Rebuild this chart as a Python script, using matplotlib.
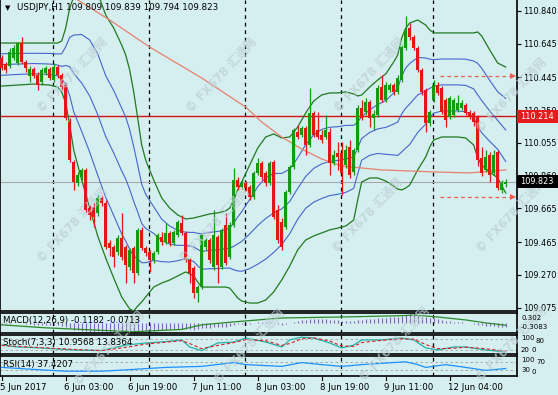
import matplotlib
matplotlib.use('Agg')
import matplotlib.pyplot as plt
from matplotlib.patches import Rectangle
import numpy as np

# ---------------- data ----------------
symbol = 'USDJPY,H1'
open_ = [110.560,110.524,110.512,110.560,110.530,110.649,110.536,110.453,110.494,110.459,
         110.417,110.471,110.494,110.429,110.506,110.459,110.399,110.179,109.941,109.816,
         109.852,109.894,109.667,109.673,109.638,109.727,109.697,109.459,109.435,109.406,
         109.489,109.435,109.316,109.429,109.281,109.537,109.429,109.406,109.358,109.406,
         109.495,109.465,109.519,109.459,109.507,109.578,109.519,109.358,109.310,109.162,
         109.197,109.435,109.477,109.316,109.495,109.316,109.566,109.376,109.566,109.834,
         109.792,109.816,109.792,109.733,109.876,109.935,109.876,109.816,109.941,109.656,
         109.584,109.554,109.763,109.911,110.120,110.102,110.143,110.042,110.233,110.132,
         110.102,110.090,110.120,109.935,109.995,109.995,109.923,110.030,109.882,110.013,
         110.262,110.239,110.298,110.203,110.221,110.387,110.310,110.370,110.399,110.358,
         110.429,110.619,110.738,110.685,110.619,110.489,110.370,110.173,110.310,110.399,
         110.381,110.310,110.209,110.221,110.251,110.262,110.280,110.239,110.233,110.209,
         109.965,109.894,109.983,109.876,110.001,109.775,109.809]
high_ = [110.578,110.536,110.619,110.637,110.655,110.685,110.548,110.512,110.506,110.477,
         110.500,110.512,110.506,110.530,110.518,110.471,110.411,110.203,109.953,109.882,
         109.905,109.905,109.685,109.697,109.745,109.739,109.715,109.477,109.447,109.507,
         109.638,109.447,109.429,109.441,109.548,109.554,109.441,109.418,109.412,109.519,
         109.525,109.578,109.531,109.537,109.596,109.626,109.531,109.370,109.322,109.209,
         109.519,109.489,109.489,109.656,109.507,109.548,109.638,109.584,109.905,109.852,
         109.834,109.828,109.804,109.888,109.965,109.947,109.888,109.947,109.953,109.685,
         109.608,109.775,109.923,110.143,110.161,110.155,110.155,110.381,110.245,110.239,
         110.132,110.221,110.143,110.013,110.060,110.060,110.042,110.072,110.024,110.280,
         110.310,110.322,110.310,110.251,110.399,110.459,110.417,110.411,110.411,110.459,
         110.637,110.810,110.768,110.697,110.631,110.500,110.381,110.251,110.429,110.417,
         110.393,110.322,110.334,110.322,110.340,110.310,110.292,110.251,110.245,110.221,
         110.030,110.013,110.001,110.013,110.013,109.834,109.839]
low_ = [110.489,110.471,110.500,110.548,110.518,110.524,110.477,110.417,110.441,110.370,
        110.399,110.459,110.429,110.417,110.441,110.370,110.191,109.941,109.775,109.798,
        109.834,109.644,109.596,109.554,109.620,109.679,109.423,109.382,109.316,109.388,
        109.358,109.221,109.299,109.221,109.269,109.418,109.382,109.287,109.340,109.394,
        109.447,109.453,109.441,109.447,109.495,109.507,109.346,109.221,109.132,109.108,
        109.185,109.418,109.340,109.299,109.221,109.304,109.328,109.364,109.554,109.775,
        109.780,109.769,109.715,109.721,109.864,109.834,109.798,109.804,109.602,109.459,
        109.418,109.542,109.751,109.899,110.078,110.090,109.983,110.030,110.090,110.078,
        110.054,110.078,109.864,109.923,109.894,109.745,109.905,109.846,109.864,110.001,
        110.191,110.221,110.149,110.132,110.209,110.298,110.298,110.358,110.340,110.346,
        110.417,110.608,110.667,110.608,110.477,110.340,110.120,110.155,110.298,110.340,
        110.227,110.149,110.197,110.209,110.239,110.251,110.221,110.197,110.155,109.917,
        109.858,109.882,109.822,109.864,109.775,109.757,109.794]
close_ = [110.500,110.489,110.596,110.619,110.649,110.536,110.500,110.494,110.453,110.399,
          110.489,110.500,110.441,110.506,110.459,110.387,110.203,109.953,109.822,109.864,
          109.894,109.656,109.626,109.614,109.727,109.697,109.435,109.429,109.376,109.489,
          109.376,109.328,109.418,109.281,109.537,109.429,109.400,109.358,109.400,109.507,
          109.465,109.519,109.459,109.525,109.584,109.519,109.358,109.281,109.162,109.197,
          109.507,109.477,109.358,109.507,109.328,109.537,109.340,109.566,109.834,109.792,
          109.816,109.786,109.733,109.876,109.935,109.852,109.816,109.935,109.614,109.477,
          109.435,109.763,109.911,110.132,110.090,110.143,110.042,110.233,110.102,110.090,
          110.072,110.132,109.935,109.983,109.971,109.876,110.013,109.864,110.013,110.262,
          110.203,110.298,110.203,110.227,110.381,110.310,110.399,110.399,110.358,110.441,
          110.625,110.727,110.685,110.619,110.489,110.358,110.173,110.239,110.399,110.352,
          110.239,110.191,110.322,110.310,110.292,110.292,110.233,110.209,110.179,109.953,
          109.876,109.971,109.864,109.983,109.786,109.816,109.823]

# Bollinger bands (bar index, price)
band_idx = [0,4,8,12,14,15,16,17,18,20,22,24,25,26,28,30,31,32,33,34,35,36,38,40,42,44,46,48,49,50,
            52,54,56,57,58,59,60,62,64,66,68,70,72,74,76,78,80,82,84,86,88,89,90,92,94,96,98,99,100,101,
            102,104,106,107,108,110,112,114,116,118,119,120,122,124,126]
bb_outer_up = [110.649,110.649,110.649,110.649,110.649,110.661,110.738,110.857,110.923,110.988,
               111.000,110.947,110.881,110.816,110.738,110.637,110.578,110.489,110.358,110.203,
               110.042,109.953,109.834,109.727,109.667,109.626,109.602,109.608,109.614,109.620,
               109.632,109.638,109.650,109.667,109.715,109.775,109.822,109.923,110.024,110.090,
               110.108,110.084,110.090,110.149,110.233,110.304,110.340,110.352,110.352,110.358,
               110.346,110.334,110.340,110.387,110.429,110.465,110.536,110.578,110.679,110.738,
               110.768,110.786,110.756,110.727,110.709,110.709,110.709,110.709,110.709,110.709,
               110.715,110.691,110.608,110.530,110.506]
bb_outer_lo = [110.393,110.399,110.405,110.399,110.387,110.358,110.292,110.161,110.013,109.834,
               109.667,109.501,109.435,109.370,109.251,109.138,109.102,109.066,109.055,109.084,
               109.108,109.138,109.197,109.221,109.239,109.263,109.287,109.263,109.227,109.197,
               109.197,109.197,109.197,109.191,109.162,109.132,109.114,109.102,109.102,109.120,
               109.168,109.239,109.322,109.418,109.477,109.501,109.519,109.537,109.548,109.560,
               109.596,109.715,109.822,109.846,109.846,109.828,109.798,109.780,109.775,109.786,
               109.804,109.894,109.971,110.030,110.072,110.090,110.090,110.090,110.084,110.042,
               109.965,109.923,109.882,109.846,109.757]
bb_mid = [110.521,110.524,110.527,110.524,110.518,110.510,110.515,110.509,110.468,110.411,
          110.334,110.224,110.158,110.093,109.995,109.888,109.840,109.778,109.707,109.644,
          109.575,109.546,109.516,109.474,109.453,109.445,109.445,109.436,109.421,109.409,
          109.415,109.418,109.424,109.429,109.439,109.454,109.468,109.513,109.563,109.605,
          109.638,109.662,109.706,109.784,109.855,109.903,109.930,109.945,109.950,109.959,
          109.971,110.025,110.081,110.117,110.138,110.147,110.167,110.179,110.227,110.262,
          110.286,110.340,110.364,110.379,110.391,110.400,110.400,110.400,110.397,110.376,
          110.340,110.307,110.245,110.188,110.132]
bb_inner_up = [110.585,110.587,110.588,110.587,110.584,110.585,110.627,110.683,110.696,110.700,
               110.667,110.586,110.520,110.455,110.366,110.262,110.209,110.133,110.032,109.923,
               109.809,109.749,109.675,109.601,109.560,109.535,109.523,109.522,109.517,109.514,
               109.523,109.528,109.537,109.548,109.577,109.614,109.645,109.718,109.794,109.848,
               109.873,109.873,109.898,109.966,110.044,110.103,110.135,110.148,110.151,110.159,
               110.159,110.179,110.211,110.252,110.283,110.306,110.352,110.379,110.453,110.500,
               110.527,110.563,110.560,110.553,110.550,110.554,110.554,110.554,110.553,110.542,
               110.528,110.499,110.427,110.359,110.319]
bb_inner_lo = [110.457,110.462,110.466,110.462,110.453,110.434,110.404,110.335,110.241,110.123,
               110.000,109.863,109.797,109.732,109.623,109.513,109.471,109.422,109.381,109.364,
               109.342,109.342,109.356,109.348,109.346,109.354,109.366,109.349,109.324,109.303,
               109.306,109.307,109.310,109.310,109.300,109.293,109.291,109.307,109.333,109.363,
               109.403,109.450,109.514,109.601,109.666,109.702,109.724,109.741,109.749,109.760,
               109.784,109.870,109.952,109.981,109.992,109.987,109.983,109.980,110.001,110.024,
               110.045,110.117,110.167,110.204,110.231,110.245,110.245,110.245,110.240,110.209,
               110.153,110.115,110.064,110.017,109.944]

ma_idx = [17, 19, 27, 37, 50, 61, 65, 70, 75, 80, 85, 95, 108, 117, 126]
ma_val = [110.935, 110.905, 110.786, 110.625, 110.441, 110.268, 110.179, 110.090, 110.018,
          109.959, 109.917, 109.894, 109.882, 109.876, 109.894]

level_line = 110.214
bid_price = 109.823
arrow_levels = [110.455, 109.735]

price_ticks = [110.840, 110.645, 110.445, 110.250, 110.055, 109.860, 109.665, 109.465, 109.270, 109.075]

# MACD
macd_hist = [-0.02,-0.03,-0.02,-0.01,0.0,-0.01,-0.03,-0.04,-0.05,-0.07,-0.06,-0.06,-0.07,-0.06,-0.07,-0.09,
             -0.12,-0.17,-0.21,-0.23,-0.24,-0.26,-0.27,-0.27,-0.26,-0.27,-0.28,-0.28,-0.28,-0.27,-0.27,-0.28,
             -0.28,-0.28,-0.26,-0.26,-0.25,-0.25,-0.24,-0.23,-0.22,-0.21,-0.20,-0.19,-0.18,-0.18,-0.19,-0.20,
             -0.21,-0.20,-0.17,-0.16,-0.16,-0.14,-0.14,-0.12,-0.12,-0.10,-0.06,-0.04,-0.03,-0.02,-0.02,0.0,
             0.02,0.02,0.02,0.03,0.0,-0.03,-0.05,-0.03,0.0,0.04,0.06,0.08,0.08,0.11,0.11,0.11,
             0.11,0.12,0.10,0.09,0.08,0.07,0.07,0.06,0.06,0.09,0.10,0.12,0.12,0.12,0.14,0.15,
             0.16,0.17,0.17,0.18,0.21,0.25,0.27,0.27,0.25,0.22,0.17,0.15,0.15,0.13,0.10,0.07,
             0.05,0.04,0.03,0.02,0.0,-0.01,-0.02,-0.05,-0.07,-0.08,-0.09,-0.10,-0.11,-0.12,-0.1182]
macd_sig_idx = [0, 11, 20, 33, 45, 50, 58, 70, 85, 100, 103, 109, 116, 121, 126]
macd_sig = [-0.06, -0.15, -0.20, -0.27, -0.20, -0.06, 0.03, 0.15, 0.18, 0.22, 0.24, 0.18, 0.09, 0.0, -0.0713]

# Stochastic
stoch_idx = [0,4,10,18,25,31,36,41,45,47,50,54,58,61,66,70,72,75,78,82,85,88,90,95,100,103,106,109,113,116,121,126]
stoch_main = [47,37,32,21,18,47,58,65,74,37,18,58,63,84,63,37,74,89,84,58,32,47,74,74,84,74,32,21,37,37,21,10.9568]
stoch_sig = [45,40,33,24,18,35,52,62,70,55,28,45,60,75,70,45,55,80,85,68,42,40,60,72,80,78,50,28,30,36,28,13.8364]

# RSI
rsi_idx = [0,8,16,25,33,41,50,58,61,70,75,80,85,90,101,104,106,111,116,121,126]
rsi_val = [43,33,24,24,33,43,48,67,57,48,67,57,48,57,71,57,43,57,43,28,37.4207]

day_sep_bars = [13, 37, 61, 85, 108]
time_label_bars = [0, 16, 32, 48, 64, 80, 96, 112]
time_labels = ['5 Jun 2017', '6 Jun 03:00', '6 Jun 19:00', '7 Jun 11:00',
               '8 Jun 03:00', '8 Jun 19:00', '9 Jun 11:00', '12 Jun 04:00']

# ---------------- drawing ----------------
W, H = 558, 395
BG = '#d5eef0'
BULL = '#129a12'
BEAR = '#e01818'
GREEN = '#207a20'
BLUE = '#4466cc'
FS = 5.9
FS_SUB = 5.0

fig = plt.figure(figsize=(W / 100, H / 100), dpi=100)
fig.patch.set_facecolor(BG)

RIGHT = 517


def axes_px(top, bottom):
    a = fig.add_axes([0, 1 - bottom / H, RIGHT / W, (bottom - top) / H])
    a.set_facecolor(BG)
    a.set_xlim(-0.425, (RIGHT - 1.7) / 4)
    a.set_xticks([])
    a.set_yticks([])
    for s in a.spines.values():
        s.set_color('black')
        s.set_linewidth(1.2)
    return a


ax = axes_px(0, 311)
ax_macd = axes_px(313, 333)
ax_sto = axes_px(335, 354)
ax_rsi = axes_px(356, 376)
ax.spines['top'].set_visible(False)

# candles
o = np.array(open_); h = np.array(high_); l = np.array(low_); c = np.array(close_)
idx = np.arange(len(c))
cols = np.where(c >= o, BULL, BEAR)
ax.vlines(idx, l, h, colors=cols, lw=0.9, zorder=4)
ax.bar(idx, np.abs(c - o) + 0.003, bottom=np.minimum(o, c) - 0.0015, width=0.75,
       color=cols, lw=0, zorder=5)

# indicators on price
ax.plot(band_idx, bb_outer_up, color=GREEN, lw=0.9, zorder=3)
ax.plot(band_idx, bb_outer_lo, color=GREEN, lw=0.9, zorder=3)
ax.plot(band_idx, bb_inner_up, color=BLUE, lw=0.8, zorder=3)
ax.plot(band_idx, bb_mid, color=BLUE, lw=0.8, zorder=3)
ax.plot(band_idx, bb_inner_lo, color=BLUE, lw=0.8, zorder=3)
ax.plot(ma_idx, ma_val, color='#e8806c', lw=0.9, zorder=3)

ax.axhline(level_line, color='#d41414', lw=1.0, zorder=2)
ax.axhline(bid_price, color='#a9a9a9', lw=0.8, zorder=2)

for lv in arrow_levels:
    ax.plot([109.6, 127.4], [lv, lv], color='#e8604c', lw=0.9, ls=(0, (3, 2.5)), zorder=6)
    ax.plot([127.9], [lv], marker='>', color='#e8604c', ms=4, mew=0, zorder=6, clip_on=False)

ax.set_ylim(110.905 - 311 * 0.00595, 110.905)
ax.yaxis.tick_right()
ax.set_yticks(price_ticks)
ax.set_yticklabels([f'{t:.3f}' for t in price_ticks], fontsize=FS)
ax.tick_params(axis='y', length=3, width=0.8, pad=1.5, colors='black', right=True)

# price boxes on axis
def price_box(y_px_center, text, fc):
    fig.add_artist(Rectangle((RIGHT / W, 1 - (y_px_center + 6.5) / H), 41 / W, 13 / H,
                             transform=fig.transFigure, fc=fc, ec='none', zorder=10))
    fig.text((RIGHT + 3) / W, 1 - y_px_center / H, text, color='white', fontsize=FS,
             va='center', ha='left', zorder=11)

price_box((110.905 - level_line) / 0.00595, f'{level_line:.3f}', '#e41c1c')
price_box((110.905 - bid_price) / 0.00595, f'{bid_price:.3f}', '#000000')

# day separators
for a in (ax, ax_macd, ax_sto, ax_rsi):
    for b in day_sep_bars:
        a.axvline(b - 0.2, color='black', lw=0.9, ls=(0, (3, 3)), zorder=1)

# MACD panel
ax_macd.vlines(idx, 0, macd_hist, colors='#8c5cc8', lw=0.8)
ax_macd.plot(macd_sig_idx, macd_sig, color='#2a8a2a', lw=0.9)
ax_macd.set_ylim(-0.3083, 0.302)

# Stoch panel
ax_sto.set_ylim(0, 100)
for lv in (20, 80):
    ax_sto.axhline(lv, color='#a0a0a0', lw=0.6, ls=(0, (3, 3)))
ax_sto.plot(stoch_idx, stoch_main, color='#20b2aa', lw=0.9)
ax_sto.plot(stoch_idx, stoch_sig, color='#e02020', lw=0.8, ls=(0, (3, 2)))

# RSI panel
ax_rsi.set_ylim(0, 100)
for lv in (30, 70):
    ax_rsi.axhline(lv, color='#a0a0a0', lw=0.6, ls=(0, (3, 3)))
ax_rsi.plot(rsi_idx, rsi_val, color='#1e90ff', lw=0.9)

# panel titles
fig.text(5 / W, 1 - 8 / H, '\u25BC', fontsize=5, va='center', ha='left')
fig.text(17 / W, 1 - 8 / H,
         f'{symbol} {open_[-1]:.3f} {high_[-1]:.3f} {low_[-1]:.3f} {close_[-1]:.3f}',
         fontsize=6.3, va='center', ha='left')
fig.text(3 / W, 1 - 321 / H, f'MACD(12,26,9) {macd_hist[-1]:.4f} {macd_sig[-1]:.4f}',
         fontsize=6.2, va='center', ha='left')
fig.text(3 / W, 1 - 343 / H, f'Stoch(7,3,3) {stoch_main[-1]:.4f} {stoch_sig[-1]:.4f}',
         fontsize=6.2, va='center', ha='left')
fig.text(3 / W, 1 - 365 / H, f'RSI(14) {rsi_val[-1]:.4f}', fontsize=6.2, va='center', ha='left')

# sub-panel scale labels
def side(y_px, txt, dx=4):
    fig.text((RIGHT + dx) / W, 1 - y_px / H, txt, fontsize=FS_SUB, va='center', ha='left')

side(317.5, '0.302')
side(327, '-0.3083')
side(338.5, '100')
side(341, '80', dx=19)
side(349.5, '20')
side(350.5, '0', dx=14)
side(360, '100')
side(362.5, '70', dx=19)
side(370.5, '30')
side(371.5, '0', dx=14)

# time axis
for b, t in zip(time_label_bars, time_labels):
    xp = 1.7 + 4 * b
    fig.text((xp - 1.5) / W, 1 - 387 / H, t, fontsize=6.2, va='center', ha='left')
    fig.add_artist(plt.Line2D([xp / W, xp / W], [1 - 377 / H, 1 - 380 / H],
                              color='black', lw=0.8, transform=fig.transFigure))

# watermarks
wm_pos = [(73, 75), (222, 75), (370, 75), (512, 95),
          (73, 225), (215, 225), (368, 215), (512, 215),
          (110, 348), (250, 346), (395, 344), (512, 344)]
for x, y in wm_pos:
    fig.text(x / W, 1 - y / H, '\u00a9 FX678 汇通网', rotation=47, fontsize=8.5,
             fontweight='bold', color='#bccfd2', alpha=0.7, ha='center', va='center',
             family=['DejaVu Sans', 'Noto Sans CJK SC'], zorder=0.5)

fig.savefig('out.png', dpi=100, facecolor=BG)
